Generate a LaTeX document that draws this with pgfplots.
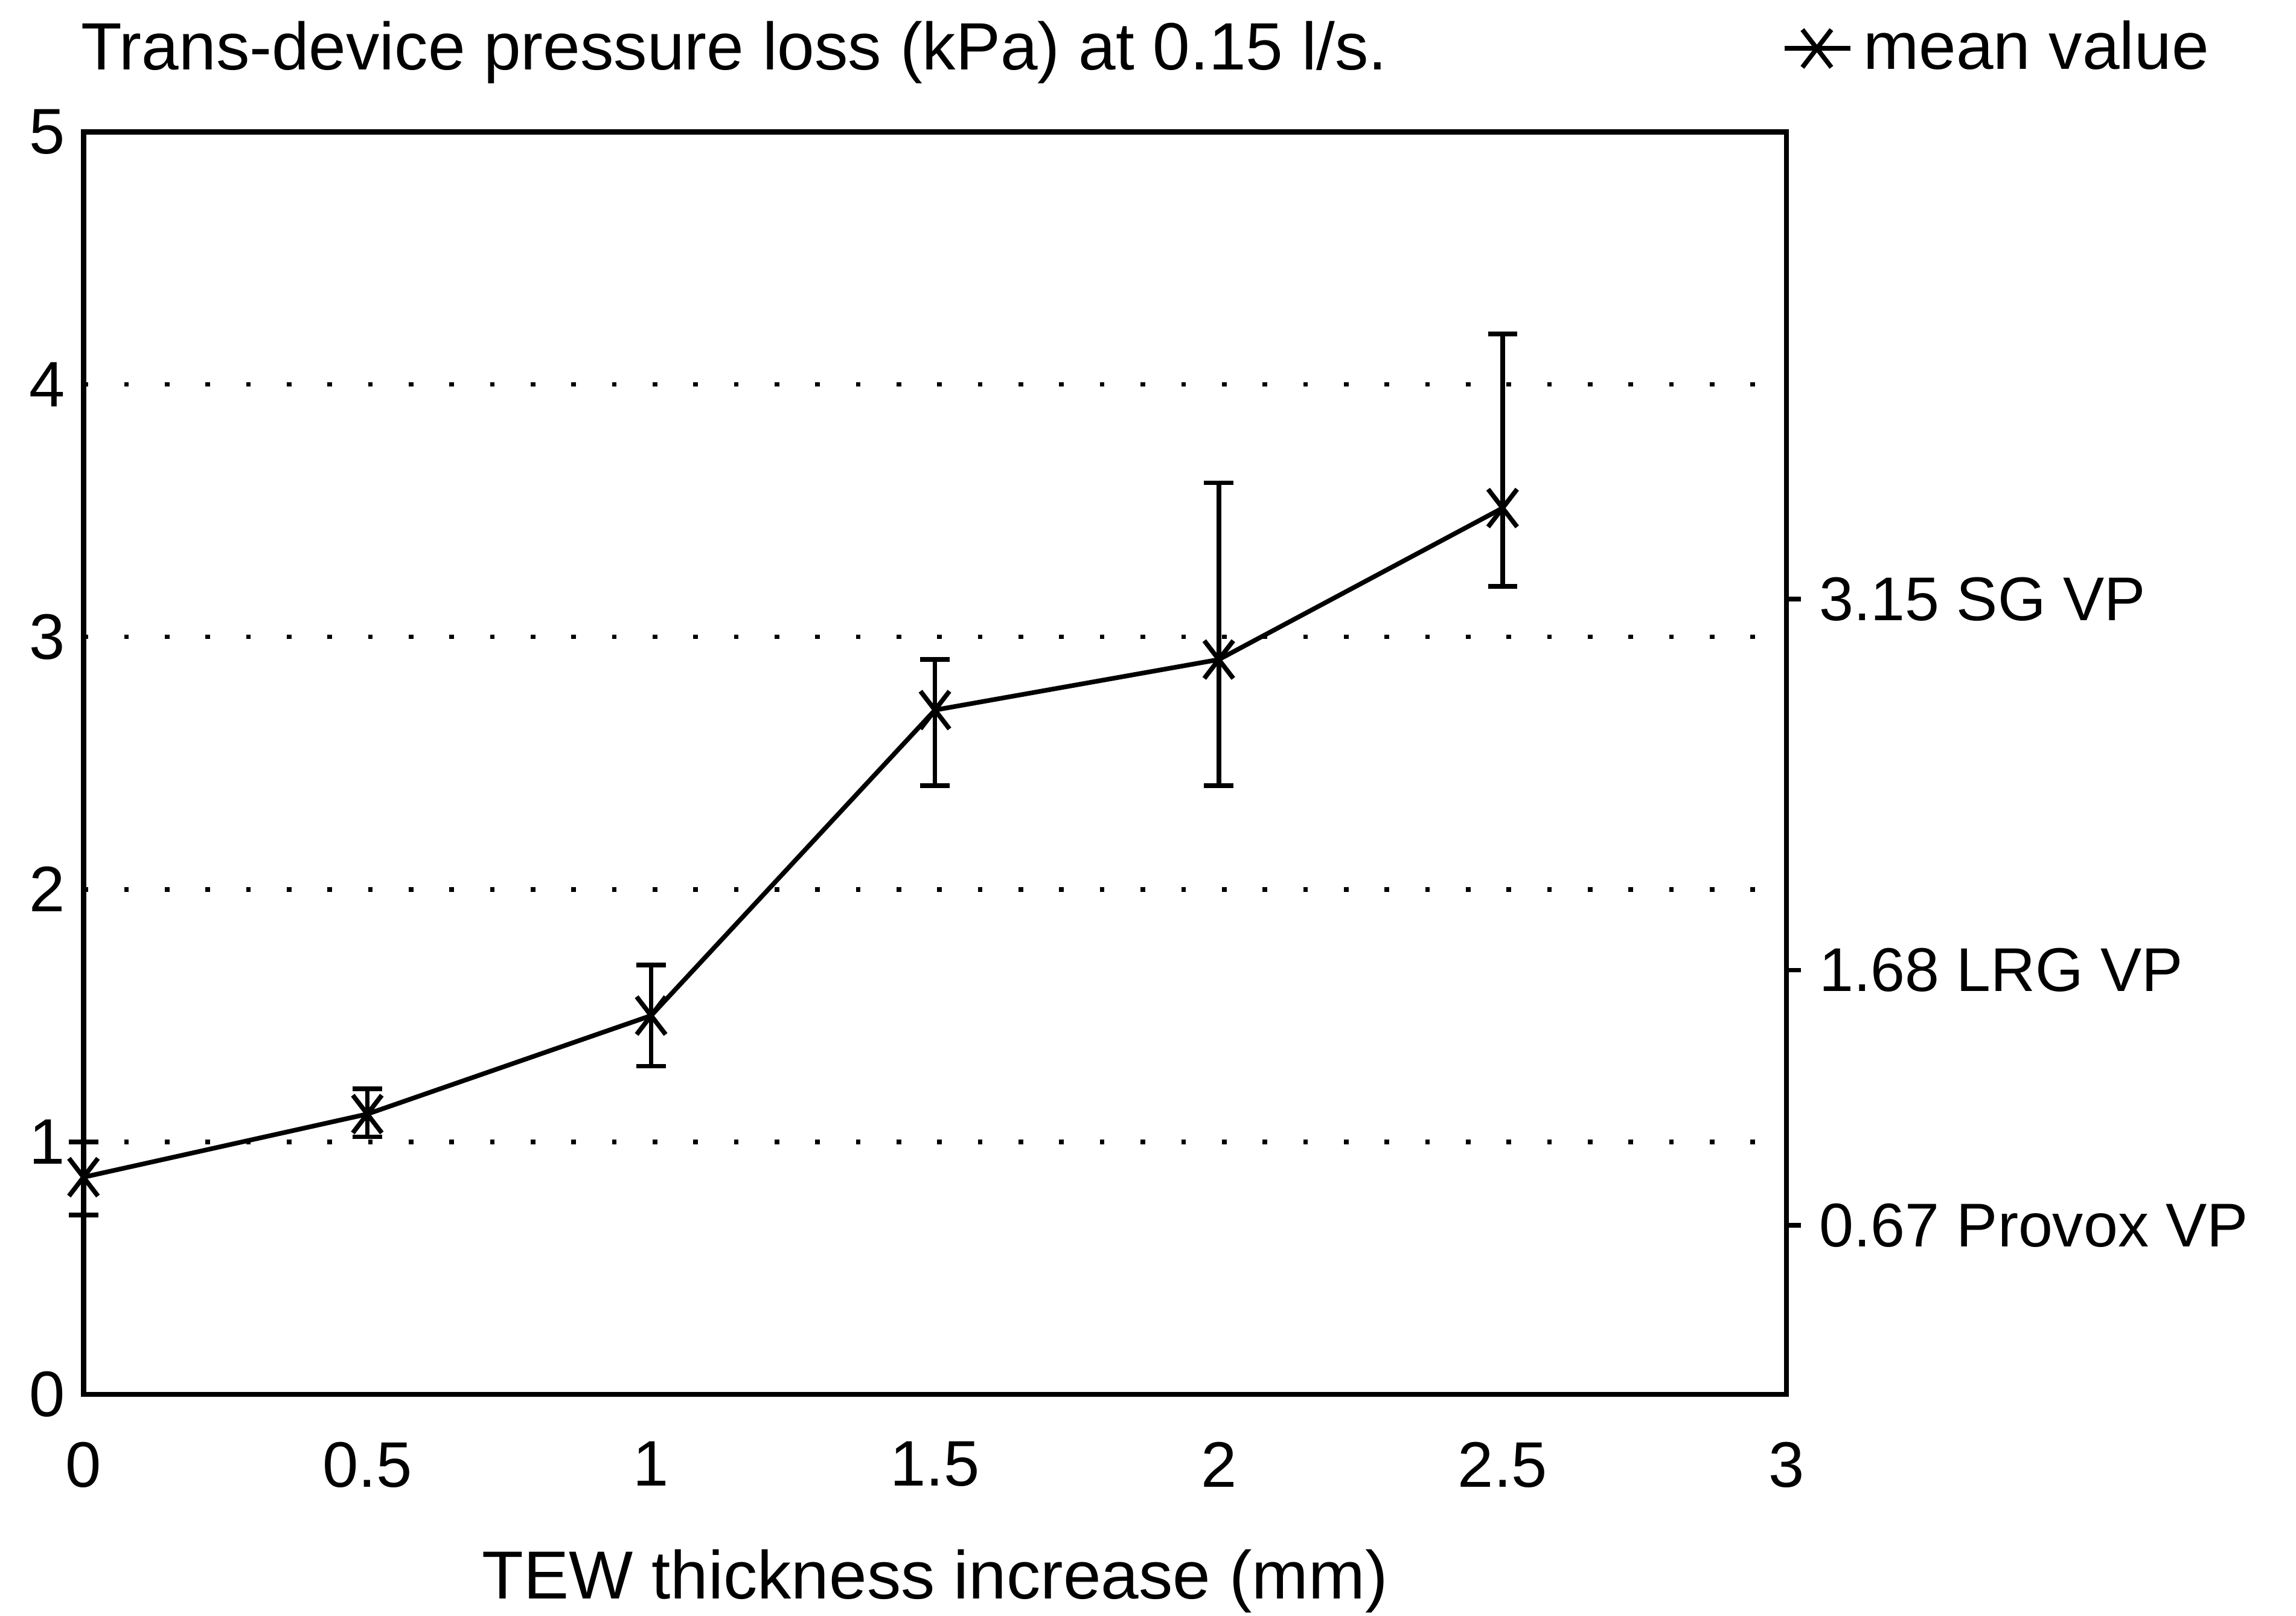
\documentclass[border=0pt]{standalone}
\usepackage{fontspec}
\setmainfont{Liberation Sans}
\usepackage{pgfplots}
\pgfplotsset{compat=1.18}

\begin{document}
\begin{tikzpicture}
\begin{axis}[name=ax, scale only axis, width=11.63cm, height=8.62cm,
 xmin=0, xmax=3, ymin=0, ymax=5,
 xtick={0,0.5,1,1.5,2,2.5,3}, ytick={0,1,2,3,4,5},
 xtick pos=bottom, ytick pos=left, major tick length=0pt,
 xticklabel style={yshift=-0.2cm},
 /pgf/number format/assume math mode=true,
 tick label style={font=\fontsize{12.5}{14}\selectfont},
 ymajorgrids, grid style={black, line width=0.9pt, dash pattern=on 0.9pt off 7pt},
 axis line style={line width=1pt},
 clip=false,
 xlabel={TEW thickness increase (mm)},
 xlabel style={font=\fontsize{13.2}{15}\selectfont, inner sep=0pt,
   at={(axis description cs:0.5,-0.148)}, anchor=center},
 legend style={at={(axis description cs:0.997,1.066)}, anchor=west, draw=none, fill=none,
   font=\fontsize{13}{15}\selectfont, inner sep=0pt},
 legend image code/.code={\draw[mark repeat=2,mark phase=2] plot coordinates {(0cm,0cm) (0.22cm,0cm) (0.45cm,0cm)};},
]
\addplot+[black, line width=0.9pt, mark=x, mark size=0.14cm, mark options={solid, yscale=1.3},
 error bars/.cd, y dir=both, y explicit,
 error bar style={line width=0.9pt},
 error mark options={line width=0.9pt, mark size=0.1cm, rotate=90}]
 coordinates {
 (0,0.86) += (0,0.14) -= (0,0.15)
 (0.5,1.11) += (0,0.10) -= (0,0.09)
 (1,1.50) += (0,0.20) -= (0,0.20)
 (1.5,2.71) += (0,0.20) -= (0,0.30)
 (2,2.91) += (0,0.70) -= (0,0.50)
 (2.5,3.51) += (0,0.69) -= (0,0.31)
 };
\addlegendentry{mean value}
\node[anchor=base west, inner sep=0pt, font=\fontsize{13}{15}\selectfont] at (axis description cs:-0.002,1.049)
 {Trans-device pressure loss (kPa) at 0.15 l/s.};
\end{axis}
\begin{axis}[scale only axis, width=11.63cm, height=8.62cm,
 at={(ax.south west)}, anchor=south west,
 xmin=0, xmax=3, ymin=0, ymax=5,
 axis x line=none, axis y line*=right,
 axis line style={draw=none},
 ytick={0.67,1.68,3.15},
 yticklabels={0.67 Provox VP, 1.68 LRG VP, 3.15 SG VP},
 tick align=outside, major tick length=0.1cm,
 tick style={black, line width=0.9pt},
 yticklabel style={anchor=west, font=\fontsize{12}{14}\selectfont},
]
\end{axis}
\path ([xshift=-0.57cm,yshift=-1.51cm]ax.south west) rectangle ([xshift=3.48cm,yshift=0.9cm]ax.north east);
\end{tikzpicture}
\end{document}
